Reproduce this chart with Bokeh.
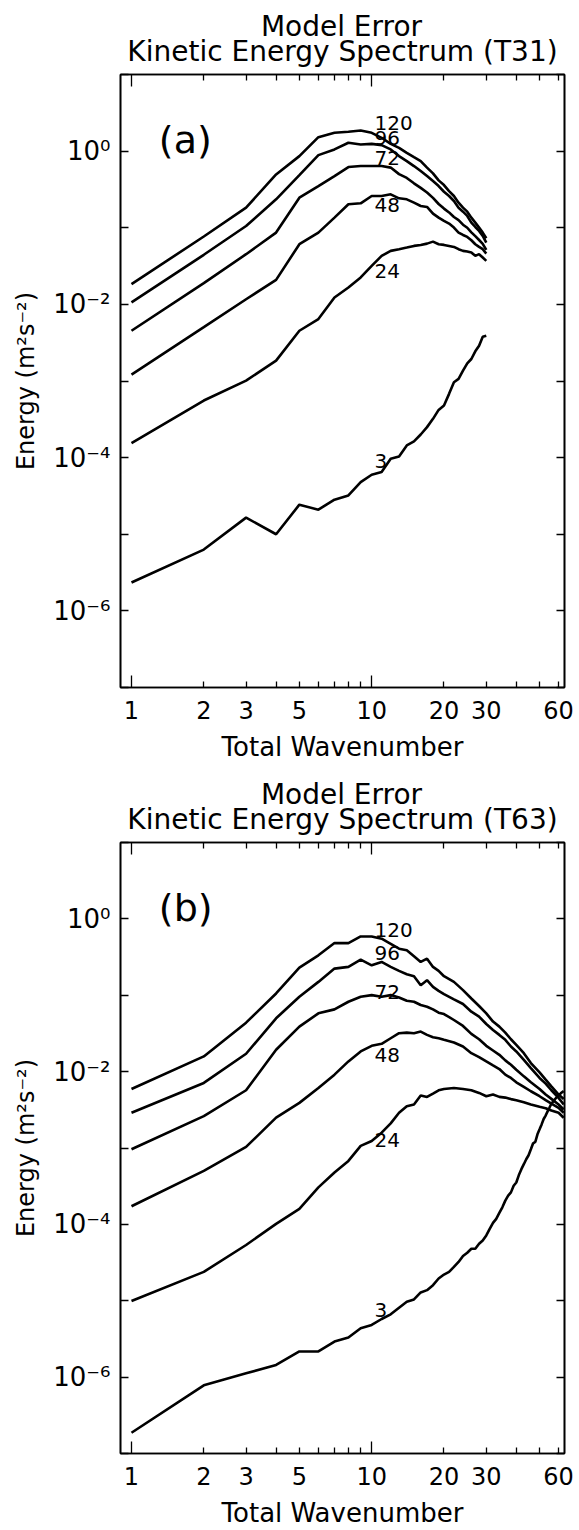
from bokeh.plotting import figure
from bokeh.models import (LogAxis, FixedTicker, Label, ColumnDataSource, Title,
                          CustomJSTickFormatter, PrintfTickFormatter)
from bokeh.layouts import column
from bokeh.embed import file_html
from bokeh.resources import INLINE
from bokeh.core.properties import value

FONT = "DejaVu Sans"

# ---------------- data (log10 of energy, m^2 s^-2) ----------------
lead_labels = ["120", "96", "72", "48", "24", "3"]

# Panel (a): T31
wavenumber_a = list(range(1, 31))
a120 = [-1.736, -1.114, -0.738, -0.304, -0.065, 0.182, 0.239, 0.252, 0.269, 0.239,
        0.174, 0.095, 0.043, -0.022, -0.078, -0.130, -0.215, -0.290, -0.382, -0.443,
        -0.521, -0.586, -0.673, -0.738, -0.790, -0.868, -0.933, -0.998, -1.063, -1.137]
a96 = [-1.975, -1.353, -0.977, -0.629, -0.313, -0.052, 0.022, 0.109, 0.087, 0.095,
       0.078, 0.022, -0.065, -0.130, -0.195, -0.260, -0.326, -0.391, -0.456, -0.530,
       -0.586, -0.651, -0.738, -0.790, -0.846, -0.933, -0.990, -1.042, -1.107, -1.194]
a72 = [-2.344, -1.722, -1.345, -1.063, -0.608, -0.456, -0.326, -0.208, -0.195, -0.195,
       -0.195, -0.215, -0.300, -0.350, -0.420, -0.480, -0.540, -0.610, -0.690, -0.750,
       -0.800, -0.860, -0.900, -0.960, -1.000, -1.060, -1.110, -1.160, -1.210, -1.290]
a48 = [-2.917, -2.298, -1.933, -1.680, -1.215, -1.063, -0.868, -0.694, -0.681, -0.586,
       -0.586, -0.564, -0.616, -0.629, -0.673, -0.716, -0.729, -0.816, -0.868, -0.911,
       -0.946, -0.998, -1.063, -1.094, -1.120, -1.163, -1.215, -1.250, -1.280, -1.337]
a24 = [-3.811, -3.255, -2.995, -2.734, -2.344, -2.192, -1.910, -1.780, -1.649, -1.497,
       -1.367, -1.302, -1.280, -1.259, -1.237, -1.224, -1.207, -1.181, -1.215, -1.224,
       -1.237, -1.250, -1.280, -1.302, -1.311, -1.324, -1.367, -1.345, -1.389, -1.432]
a3 = [-5.629, -5.200, -4.783, -5.000, -4.614, -4.679, -4.549, -4.493, -4.319, -4.223,
      -4.188, -4.015, -3.984, -3.841, -3.789, -3.698, -3.602, -3.494, -3.377, -3.320,
      -3.168, -3.016, -2.973, -2.865, -2.769, -2.713, -2.613, -2.539, -2.422, -2.409]

# Panel (b): T63
wavenumber_b = list(range(1, 21)) + [22, 24, 26, 28, 30, 32, 34, 36, 38, 40,
                                      43, 46, 50, 53, 56, 60, 63]
b120 = [-2.227, -1.801, -1.359, -0.977, -0.638, -0.477, -0.317, -0.317, -0.230, -0.230,
        -0.260, -0.326, -0.391, -0.412, -0.490, -0.564, -0.521, -0.629, -0.681, -0.751,
        -0.825, -0.933, -1.042, -1.141, -1.237, -1.345, -1.411, -1.489, -1.576, -1.649,
        -1.758, -1.888, -2.010, -2.105, -2.192, -2.300, -2.357]
b96 = [-2.539, -2.148, -1.766, -1.302, -1.020, -0.825, -0.651, -0.629, -0.534, -0.608,
       -0.564, -0.629, -0.681, -0.725, -0.751, -0.868, -0.803, -0.890, -0.942, -0.985,
       -1.055, -1.115, -1.215, -1.280, -1.376, -1.454, -1.519, -1.584, -1.671, -1.736,
       -1.845, -1.953, -2.083, -2.157, -2.244, -2.344, -2.431]
b72 = [-3.016, -2.582, -2.244, -1.714, -1.411, -1.237, -1.185, -1.085, -1.020, -0.998,
       -1.020, -0.998, -1.029, -1.072, -1.085, -1.128, -1.150, -1.185, -1.228, -1.246,
       -1.324, -1.402, -1.506, -1.576, -1.662, -1.723, -1.780, -1.853, -1.910, -1.975,
       -2.062, -2.140, -2.227, -2.300, -2.357, -2.431, -2.496]
b48 = [-3.763, -3.299, -2.986, -2.603, -2.409, -2.214, -2.040, -1.866, -1.736, -1.662,
       -1.636, -1.563, -1.497, -1.489, -1.497, -1.476, -1.519, -1.549, -1.563, -1.584,
       -1.619, -1.671, -1.758, -1.810, -1.866, -1.918, -1.966, -2.040, -2.083, -2.140,
       -2.200, -2.257, -2.322, -2.374, -2.420, -2.474, -2.539]
b24 = [-5.004, -4.622, -4.270, -3.993, -3.798, -3.516, -3.320, -3.169, -2.973, -2.908,
       -2.799, -2.678, -2.539, -2.452, -2.431, -2.313, -2.331, -2.287, -2.244, -2.227,
       -2.214, -2.227, -2.244, -2.279, -2.322, -2.300, -2.331, -2.340, -2.360, -2.374,
       -2.400, -2.431, -2.461, -2.480, -2.510, -2.539, -2.604]
wavenumber_b3 = list(range(1, 64))
b3 = [-6.728, -6.107, -5.950, -5.840, -5.664, -5.664, -5.534, -5.482, -5.360, -5.317,
      -5.239, -5.178, -5.091, -5.013, -4.983, -4.891, -4.861, -4.796, -4.709, -4.657,
      -4.622, -4.557, -4.492, -4.414, -4.371, -4.319, -4.319, -4.253, -4.210, -4.145,
      -4.058, -3.980, -3.928, -3.850, -3.776, -3.689, -3.624, -3.581, -3.494, -3.451,
      -3.355, -3.277, -3.212, -3.147, -3.095, -3.017, -2.938, -2.921, -2.821, -2.756,
      -2.691, -2.620, -2.575, -2.520, -2.470, -2.420, -2.390, -2.360, -2.335, -2.310,
      -2.290, -2.270, -2.255]

# ticks / labels
x_major_ticks = [1, 10]
x_minor_ticks = [2, 3, 4, 5, 6, 7, 8, 9, 20, 30, 40, 50, 60]
x_label_ticks = [1, 2, 3, 5, 10, 20, 30, 60]
y_tick_exps = list(range(-7, 2))
y_label_exps = [0, -2, -4, -6]
label_wavenumber = 11

title_top = "Model Error"
title_a = "Kinetic Energy Spectrum (T31)"
title_b = "Kinetic Energy Spectrum (T63)"
CENTER_PAD = "\u00a0" * 15   # centres the short first line over the second


def style_axis(ax):
    ax.axis_line_color = "black"
    ax.axis_line_width = 1.6
    ax.major_tick_line_color = "black"
    ax.major_tick_line_width = 1.3
    ax.minor_tick_line_color = "black"
    ax.minor_tick_line_width = 1.3
    ax.major_tick_out = 0
    ax.minor_tick_out = 0
    ax.major_label_text_font = FONT
    ax.axis_label_text_font = FONT
    ax.axis_label_text_font_style = "normal"
    ax.major_label_text_color = "black"
    ax.axis_label_text_color = "black"


def hide_labels(ax):
    ax.major_label_text_font_size = "1px"
    ax.major_label_text_alpha = 0
    ax.major_label_standoff = 0


def x_tick_axis(ax):
    style_axis(ax)
    ax.ticker = FixedTicker(ticks=x_major_ticks, minor_ticks=x_minor_ticks)
    ax.major_tick_in = 12
    ax.minor_tick_in = 6
    hide_labels(ax)


def y_ticker():
    return FixedTicker(ticks=[10.0 ** e for e in y_tick_exps], minor_ticks=[])


def make_panel(title_text, tag, series, wns, offsets, height, top, bottom):
    p = figure(width=579, height=height, x_axis_type="log", y_axis_type="log",
               x_range=(0.9, 63.5), y_range=(1e-7, 10.0),
               output_backend="svg", toolbar_location=None,
               min_border_left=120, min_border_right=15,
               min_border_top=top, min_border_bottom=bottom)
    p.grid.visible = False
    p.outline_line_color = "black"
    p.outline_line_width = 1.6
    p.background_fill_color = "white"
    p.border_fill_color = "white"

    # bottom tick axis (default)
    bx = p.below[0]
    x_tick_axis(bx)
    # bottom label axis
    lx = LogAxis(ticker=FixedTicker(ticks=x_label_ticks, minor_ticks=[]),
                 formatter=PrintfTickFormatter(format="%d"))
    style_axis(lx)
    lx.axis_line_alpha = 0
    lx.major_tick_in = 0
    lx.minor_tick_in = 0
    lx.major_label_standoff = 13
    lx.major_label_text_font_size = "24px"
    lx.axis_label = "Total Wavenumber"
    lx.axis_label_text_font_size = "26px"
    lx.axis_label_standoff = 10
    p.add_layout(lx, "below")

    # top axis
    tx = LogAxis()
    x_tick_axis(tx)
    p.add_layout(tx, "above")

    # left axis
    ly = p.left[0]
    style_axis(ly)
    ly.ticker = y_ticker()
    ly.major_tick_in = 8
    ly.formatter = CustomJSTickFormatter(args=dict(exps=y_label_exps), code="""
        const e = Math.round(Math.log10(tick));
        if (!exps.includes(e)) { return " "; }
        const sup = {"0":"\u2070","1":"\u00b9","2":"\u00b2","3":"\u00b3","4":"\u2074",
                     "5":"\u2075","6":"\u2076","7":"\u2077","8":"\u2078","9":"\u2079","-":"\u207b"};
        return "10" + String(e).split("").map(c => sup[c]).join("");
    """)
    ly.major_label_text_font_size = "26px"
    ly.major_label_standoff = 10
    ly.axis_label = "Energy (m\u00b2s\u207b\u00b2)"
    ly.axis_label_text_font_size = "24px"
    ly.axis_label_standoff = 10

    # right axis
    ry = LogAxis(ticker=y_ticker())
    style_axis(ry)
    ry.major_tick_in = 8
    hide_labels(ry)
    p.add_layout(ry, "right")

    # two-line title
    p.add_layout(Title(text=title_text, align="center", text_font=FONT,
                       text_font_size="28px", text_font_style="normal",
                       text_line_height=0.75, text_color="black", standoff=14),
                 "above")

    # curves
    lab_x, lab_y = [], []
    for vals, wn in zip(series, wns):
        energy = [10.0 ** v for v in vals]
        p.line(wn, energy, line_color="black", line_width=2.6)
        i = wn.index(label_wavenumber)
        lab_x.append(label_wavenumber)
        lab_y.append(energy[i])
    src = ColumnDataSource(dict(x=lab_x, y=lab_y, text=lead_labels, yoff=offsets))
    p.text(x="x", y="y", text="text", source=src, text_font=value(FONT),
           text_font_size="20px", text_align="left", text_baseline="middle",
           text_color="black", x_offset=-7, y_offset="yoff")

    p.add_layout(Label(x=1.3, y=1.4, text=tag, text_font=FONT, text_font_size="38px",
                       text_baseline="middle", text_color="black"))
    return p


pa = make_panel(CENTER_PAD + title_top + "\n" + title_a, "(a)",
                [a120, a96, a72, a48, a24, a3],
                [wavenumber_a] * 6,
                [-15, -7, -8, 9, 15, -11], 768, 73, 81)
pb = make_panel(CENTER_PAD + title_top + "\n" + title_b, "(b)",
                [b120, b96, b72, b48, b24, b3],
                [wavenumber_b] * 5 + [wavenumber_b3],
                [-9, -9, -5, 11, 7, -9], 762, 72, 76)

layout = column(pa, pb, spacing=0)
open("out.html", "w").write(file_html(layout, INLINE))
